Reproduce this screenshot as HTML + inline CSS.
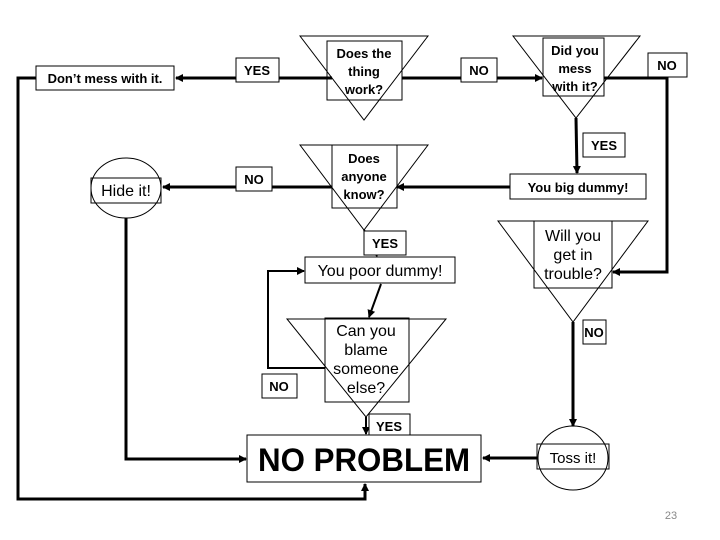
<!DOCTYPE html>
<html><head><style>
html,body{margin:0;padding:0;background:#fff;}
svg{display:block;}
text{font-family:"Liberation Sans",Arial,sans-serif;fill:#000;}
.b{font-weight:bold;}
</style></head><body>
<svg width="720" height="540" viewBox="0 0 720 540" xmlns="http://www.w3.org/2000/svg">
<defs>
<marker id="a" markerWidth="8" markerHeight="8" refX="7" refY="4" orient="auto" markerUnits="userSpaceOnUse">
<path d="M0,0 L8,4 L0,8 z" fill="#000"/></marker>
</defs>
<g fill="none" stroke="#000" stroke-width="3">
<polyline points="36,78 18,78 18,499 365,499 365,484" marker-end="url(#a)"/>
<polyline points="126,218 126,459 246,459" marker-end="url(#a)"/>
<line x1="332" y1="78" x2="176" y2="78" marker-end="url(#a)"/>
<line x1="402" y1="78" x2="542" y2="78" marker-end="url(#a)"/>
<line x1="332" y1="187" x2="163" y2="187" marker-end="url(#a)"/>
<polyline points="604,78 667,78 667,272 613,272" marker-end="url(#a)"/>
<line x1="576" y1="118" x2="577" y2="173" marker-end="url(#a)"/>
<line x1="510" y1="187" x2="397" y2="187" marker-end="url(#a)"/>
<line x1="364" y1="230" x2="377" y2="256" stroke-width="2" marker-end="url(#a)"/>
<line x1="381" y1="284" x2="369" y2="317" stroke-width="2" marker-end="url(#a)"/>
<polyline points="325,368 268,368 268,271 304,271" stroke-width="2" marker-end="url(#a)"/>
<line x1="366" y1="417" x2="366" y2="434" stroke-width="2" marker-end="url(#a)"/>
<line x1="573" y1="322" x2="573" y2="426" marker-end="url(#a)"/>
<line x1="537" y1="458" x2="483" y2="458" marker-end="url(#a)"/>
</g>
<g fill="none" stroke="#000" stroke-width="1">
<polygon points="300,36 428,36 364,120"/>
<polygon points="300,145 428,145 364,230"/>
<polygon points="513,36 640,36 576,118"/>
<polygon points="498,221 648,221 573,322"/>
<polygon points="287,319 446,319 366,417"/>
<ellipse cx="126" cy="188" rx="35" ry="30"/>
<ellipse cx="573" cy="458" rx="35" ry="32"/>
</g>
<g fill="#fff" stroke="#000" stroke-width="1">
<rect x="36" y="66" width="138" height="24"/>
<rect x="236" y="58" width="43" height="24"/>
<rect x="236" y="167" width="36" height="24"/>
<rect x="461" y="58" width="36" height="24"/>
<rect x="648" y="53" width="39" height="24"/>
<rect x="583" y="133" width="42" height="24"/>
<rect x="510" y="174" width="136" height="25"/>
<rect x="364" y="231" width="42" height="24"/>
<rect x="305" y="257" width="150" height="26"/>
<rect x="583" y="320" width="23" height="24"/>
<rect x="262" y="374" width="35" height="24"/>
<rect x="369" y="414" width="41" height="24"/>
<rect x="247" y="435" width="234" height="47"/>
</g>
<g fill="none" stroke="#000" stroke-width="1">
<rect x="327" y="41" width="75" height="59"/>
<rect x="332" y="145" width="65" height="63"/>
<rect x="543" y="38" width="61" height="58"/>
<rect x="534" y="221" width="78" height="67"/>
<rect x="325" y="318" width="84" height="84"/>
<rect x="91" y="178" width="70" height="25"/>
<rect x="537" y="444" width="72" height="25"/>
</g>
<g class="b" font-size="13" text-anchor="middle">
<text x="105" y="83">Don’t mess with it.</text>
<text x="257" y="75">YES</text>
<text x="254" y="184">NO</text>
<text x="479" y="75">NO</text>
<text x="667" y="70">NO</text>
<text x="604" y="150">YES</text>
<text x="578" y="192">You big dummy!</text>
<text x="385" y="248">YES</text>
<text x="594" y="337">NO</text>
<text x="279" y="391">NO</text>
<text x="389" y="431">YES</text>
<text x="364" y="58">Does the</text><text x="364" y="76">thing</text><text x="364" y="94">work?</text>
<text x="364" y="163">Does</text><text x="364" y="181">anyone</text><text x="364" y="199">know?</text>
<text x="575" y="55">Did you</text><text x="575" y="73">mess</text><text x="575" y="91">with it?</text>
</g>
<g font-size="16" text-anchor="middle">
<text x="126" y="196">Hide it!</text>
<text x="380" y="276">You poor dummy!</text>
<text x="573" y="241">Will you</text><text x="573" y="260">get in</text><text x="573" y="279">trouble?</text>
<text x="366" y="336">Can you</text><text x="366" y="355">blame</text><text x="366" y="374">someone</text><text x="366" y="393">else?</text>
<text x="573" y="463" font-size="15">Toss it!</text>
</g>
<text x="258" y="471" font-size="32" font-weight="bold" textLength="212" lengthAdjust="spacingAndGlyphs">NO PROBLEM</text>
<text x="671" y="519" font-size="11" fill="#888" style="fill:#888" text-anchor="middle">23</text>
</svg>
</body></html>
